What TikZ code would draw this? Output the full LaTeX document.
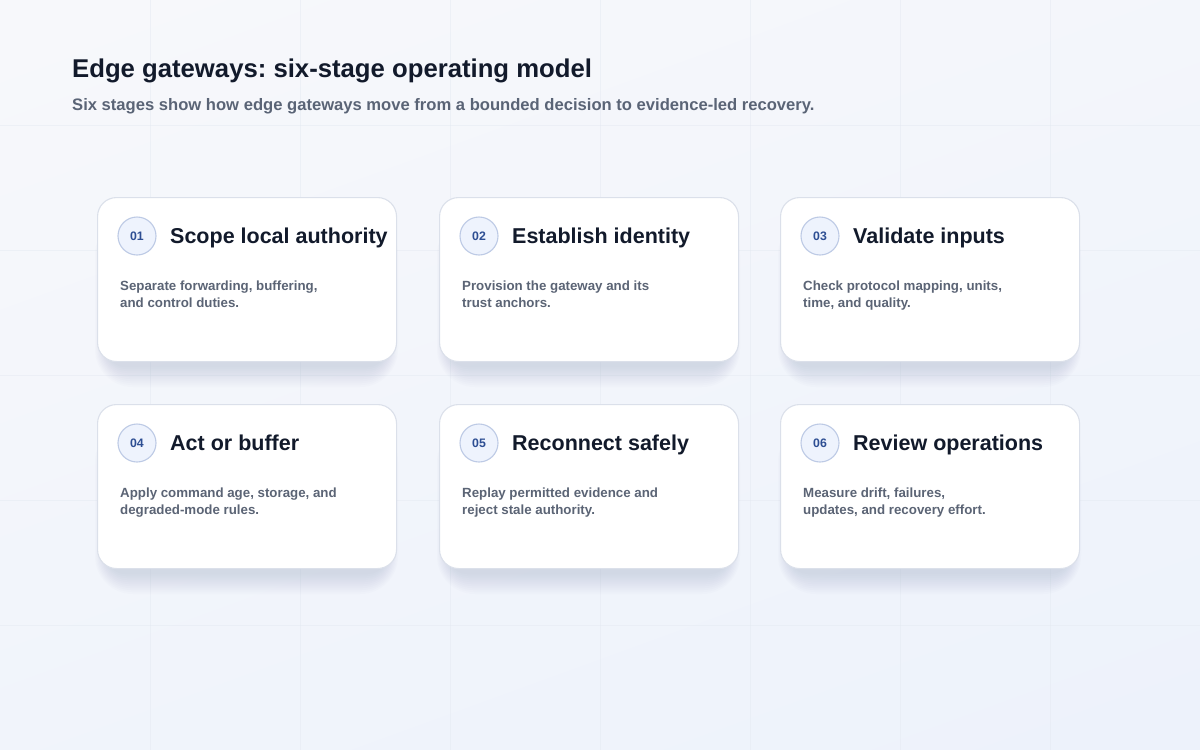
\documentclass[tikz,border=0pt]{standalone}
\usepackage{fontspec}
\setmainfont{Liberation Sans}
\frenchspacing
\definecolor{bgtop}{HTML}{F7F8FB}
\definecolor{bgbot}{HTML}{EDF2FB}
\definecolor{gridc}{HTML}{E3E8F0}
\definecolor{cardborder}{HTML}{DBE0EA}
\definecolor{circfill}{HTML}{EEF3FD}
\definecolor{circborder}{HTML}{BDCAE5}
\definecolor{numc}{HTML}{2D4E93}
\definecolor{titlec}{HTML}{121A2B}
\definecolor{descc}{HTML}{5B6475}
\definecolor{subc}{HTML}{5A6476}
\definecolor{shadowc}{HTML}{8E9BC0}
\tikzset{
  cardbox/.style={draw=cardborder, line width=1.1pt, fill=white, rounded corners=19pt,
    minimum width=299pt, minimum height=164pt, anchor=north west, inner sep=0pt},
  numcirc/.style={circle, draw=circborder, line width=1.1pt, fill=circfill,
    minimum size=38pt, inner sep=0pt, text=numc, font=\fontsize{12.3}{14}\selectfont\bfseries},
  cardtitle/.style={anchor=base west, inner sep=0pt, text=titlec,
    font=\fontsize{21.5}{25}\selectfont\bfseries},
  carddesc/.style={anchor=base west, inner sep=0pt, text=descc,
    font=\fontsize{13.3}{16}\selectfont\bfseries},
  gridline/.style={gridc, line width=0.9pt, opacity=0.45},
}
\newcommand\stagecard[7]{%
  % #1 x, #2 y, #3 id, #4 number, #5 title, #6 line1, #7 line2
  \foreach \i [evaluate=\i as \r using 18+\i] in {0,2,...,20}{
    \fill[shadowc, opacity=0.028, rounded corners=\r pt]
      ({#1+10-0.6*\i},{#2+20}) rectangle ({#1+289+0.6*\i},{#2+170+\i});
  }
  \node[cardbox] (card#3) at (#1,#2) {};
  \node[numcirc] (num#3) at ({#1+40},{#2+39}) {#4};
  \node[cardtitle] (title#3) at ({#1+73},{#2+46.5}) {#5};
  \node[carddesc] (desca#3) at ({#1+23},{#2+93}) {#6};
  \node[carddesc] (descb#3) at ({#1+23},{#2+110}) {#7};
}
\begin{document}
\begin{tikzpicture}[x=1pt,y=-1pt]
\useasboundingbox (0,0) rectangle (1200,750);
\shade[top color=bgtop, bottom color=bgbot, shading angle=20] (-100,-100) rectangle (1300,850);
\foreach \gx in {150,300,...,1050} \draw[gridline] (\gx,0) -- (\gx,750);
\foreach \gy in {125,250,...,625} \draw[gridline] (0,\gy) -- (1200,\gy);
\node[anchor=base west, inner sep=0pt, text=titlec, font=\fontsize{25.7}{30}\selectfont\bfseries]
  (maintitle) at (72,77.5) {Edge gateways: six-stage operating model};
\node[anchor=base west, inner sep=0pt, text=subc, font=\fontsize{16.6}{20}\selectfont\bfseries]
  (subtitle) at (72,110) {Six stages show how edge gateways move from a bounded decision to evidence-led recovery.};
\stagecard{97}{197}{1}{01}{Scope local authority}{Separate forwarding, buffering,}{and control duties.}
\stagecard{439}{197}{2}{02}{Establish identity}{Provision the gateway and its}{trust anchors.}
\stagecard{780}{197}{3}{03}{Validate inputs}{Check protocol mapping, units,}{time, and quality.}
\stagecard{97}{404}{4}{04}{Act or buffer}{Apply command age, storage, and}{degraded-mode rules.}
\stagecard{439}{404}{5}{05}{Reconnect safely}{Replay permitted evidence and}{reject stale authority.}
\stagecard{780}{404}{6}{06}{Review operations}{Measure drift, failures,}{updates, and recovery effort.}
\end{tikzpicture}
\end{document}
